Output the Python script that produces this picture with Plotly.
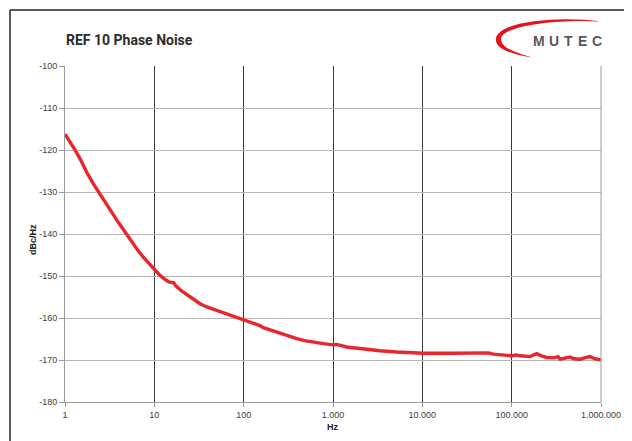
import plotly.graph_objects as go

# ---- data ----
freq_hz = [1, 1.1, 1.29, 1.5, 1.75, 2.07, 2.4, 2.68, 3.0, 3.47, 4.0, 4.49, 5.0, 5.81, 6.5,
           7.52, 8.5, 10.2, 11.5, 12.6, 14.5, 16.5, 17.5, 20, 23, 27, 32.5, 38, 43, 50,
           60, 70, 77, 88, 99, 120, 152, 166, 200, 255, 320, 393, 480, 602, 780, 1007,
           1100, 1422, 2183, 3357, 5164, 7000, 10260, 22230, 44250, 55000, 62350, 80000,
           100200, 112000, 124100, 160600, 180000, 190700, 215000, 246800, 300000, 330000,
           347600, 400000, 450000, 500000, 582000, 680000, 753000, 850000, 1000000]
noise_dbc = [-116.2, -117.5, -119.9, -122.4, -125.3, -128.0, -130.2, -131.9, -133.4, -135.4,
             -137.4, -139.0, -140.5, -142.4, -143.8, -145.5, -146.8, -148.5, -149.8, -150.5,
             -151.4, -151.6, -152.4, -153.5, -154.4, -155.5, -156.6, -157.3, -157.7, -158.2,
             -158.8, -159.3, -159.7, -160.2, -160.5, -161.2, -161.8, -162.3, -162.9, -163.7,
             -164.3, -164.9, -165.4, -165.8, -166.1, -166.4, -166.3, -166.9, -167.4, -167.8,
             -168.1, -168.3, -168.4, -168.4, -168.3, -168.3, -168.6, -168.9, -169.0, -168.8,
             -169.0, -169.2, -168.8, -168.5, -169.0, -169.4, -169.5, -169.2, -169.8, -169.6,
             -169.3, -169.7, -169.8, -169.4, -169.2, -169.7, -170.0]

x_tickvals = [1, 10, 100, 1000, 10000, 100000, 1000000]
x_ticktext = ["1", "10", "100", "1.000", "10.000", "100.000", "1.000.000"]
y_tickvals = [-100, -110, -120, -130, -140, -150, -160, -170, -180]
y_ticktext = ["-100", "-110", "-120", "-130", "-140", "-150", "-160", "-170", "-180"]

title_text = "REF 10 Phase Noise"
brand_text = "MUTEC"
x_title = "Hz"
y_title = "dBc/Hz"

# ---- layout geometry (window pixels; page body has an 8px margin) ----
O = 8
W, H = 632 - O, 441 - O
L, R, T, B = 65, 601, 66, 402


def px(x):
    return (x - L) / (R - L)


def py(y):
    return (B - y) / (B - T)


fig = go.Figure()
fig.add_trace(go.Scatter(
    x=freq_hz, y=noise_dbc, mode="lines",
    line=dict(color="#e8262b", width=3.4, shape="linear"),
    hoverinfo="skip", showlegend=False,
))

fig.update_xaxes(
    type="log", range=[0, 6], tickvals=x_tickvals, ticktext=x_ticktext,
    showgrid=True, gridcolor="#3a3a3a", gridwidth=1,
    showline=True, linecolor="#9a9a9a", linewidth=1, mirror=False,
    ticks="outside", ticklen=4, tickcolor="#9a9a9a",
    tickfont=dict(family="Liberation Sans", size=9, color="#404040"),
    zeroline=False, fixedrange=True,
)
fig.update_yaxes(
    range=[-180, -100], tickvals=y_tickvals, ticktext=y_ticktext,
    showgrid=True, gridcolor="#b5b5b5", gridwidth=1,
    showline=True, linecolor="#9a9a9a", linewidth=1,
    ticks="outside", ticklen=5, tickcolor="#9a9a9a",
    tickfont=dict(family="Liberation Sans", size=9, color="#404040"),
    zeroline=False, fixedrange=True,
)

shapes = [
    # outer frame (left, top, right)
    dict(type="line", xref="paper", yref="paper", x0=px(10), y0=py(445), x1=px(10), y1=py(10),
         line=dict(color="#222", width=1.5)),
    dict(type="line", xref="paper", yref="paper", x0=px(10), y0=py(10), x1=px(630), y1=py(10),
         line=dict(color="#222", width=1.5)),
    dict(type="line", xref="paper", yref="paper", x0=px(630), y0=py(10), x1=px(630), y1=py(445),
         line=dict(color="#222", width=1.5)),
    # right border of the plot area
    dict(type="line", xref="paper", yref="paper", x0=1, y0=0, x1=1, y1=1,
         line=dict(color="#9a9a9a", width=1)),
]


def P(x, y):
    return f"{px(x):.5f},{py(y):.5f}"


swoosh = (f"M {P(601,21.5)} C {P(560,16)} {P(500,21)} {P(496,38)} "
          f"C {P(494,48)} {P(510,54)} {P(532,57.5)} "
          f"C {P(514,52)} {P(500,47)} {P(501,38)} "
          f"C {P(505,25)} {P(560,19)} {P(601,21.5)} Z")
shapes.append(dict(type="path", xref="paper", yref="paper", path=swoosh,
                   fillcolor="#e3131b", line=dict(width=0)))

annotations = [
    dict(text=f"<b>{title_text}</b>", xref="paper", yref="paper", x=px(64), y=py(40.5),
         xanchor="left", yanchor="middle", showarrow=False,
         font=dict(family="Roboto", size=14, color="#2b2b2b")),
    dict(text=f"<b>{y_title}</b>", xref="paper", yref="paper", x=px(33), y=py(240),
         xanchor="center", yanchor="middle", showarrow=False, textangle=-90,
         font=dict(family="Liberation Sans", size=9, color="#222")),
    dict(text=f"<b>{x_title}</b>", xref="paper", yref="paper", x=px(333), y=py(427),
         xanchor="center", yanchor="middle", showarrow=False,
         font=dict(family="Liberation Sans", size=9, color="#222")),
]
brand_x = [539, 554, 568, 582, 597]
for ch, bx in zip(brand_text, brand_x):
    annotations.append(dict(text=f"<b>{ch}</b>", xref="paper", yref="paper", x=px(bx), y=py(41),
                            xanchor="center", yanchor="middle", showarrow=False,
                            font=dict(family="Liberation Sans", size=14, color="#58595b")))

fig.update_layout(
    width=W, height=H, autosize=False,
    margin=dict(l=L - O, r=W - (R - O), t=T - O, b=H - (B - O)),
    paper_bgcolor="white", plot_bgcolor="white",
    shapes=shapes, annotations=annotations, showlegend=False,
)

fig.write_html("out.html", config={"displayModeBar": False})
